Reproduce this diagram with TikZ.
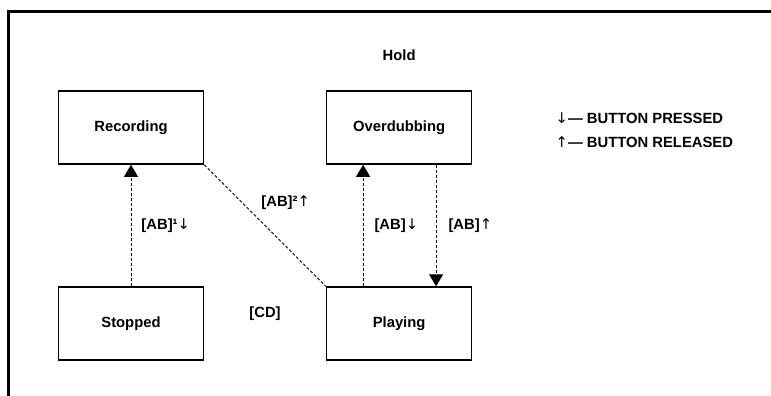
\documentclass[tikz,border=0pt]{standalone}
\usepackage{fontspec}
\setmainfont{Liberation Sans}
\newfontfamily\arrowfont{DejaVu Sans}
\newcommand{\dn}{{\arrowfont\mdseries ↓}}
\newcommand{\up}{{\arrowfont\mdseries ↑}}
\usetikzlibrary{positioning,arrows.meta}

\begin{document}
\begin{tikzpicture}[
    x=1pt, y=1pt,
    font=\bfseries\fontsize{14.8}{17}\selectfont,
    line/.style={-{Triangle[width=14pt,length=12pt]}, line width=0.9pt, dash pattern=on 3pt off 2pt},
    plainline/.style={line width=0.9pt, dash pattern=on 3pt off 2pt},
    state/.style={
        draw, line width=1.6pt,
        minimum width=145pt,
        minimum height=73pt,
        align=center,
        fill=white
    },
    label/.style={inner sep=2pt},
    legend/.style={align=left, inner sep=0pt}
]
\clip (0,0) rectangle (771,-396);

% Frame
\draw[line width=3pt] (8.5,-410) -- (8.5,-12) -- (790,-12);

% States
\node[state] (rec) at (131,-127.5) {Recording};
\node[state, right=121.5pt of rec] (over) {Overdubbing};
\node[state, below=121.5pt of rec] (stop) {Stopped};
\node[state, below=121.5pt of over] (play) {Playing};

% Texts
\node[label, above=27pt of over] (hold) {Hold};
\path (stop) -- (play) node[midway, yshift=10pt] (cd) {[CD]};

% Transitions
\draw[line] (stop) -- node[label, right=8pt] (ab1) {[AB]¹\dn} (rec);
\draw[plainline] (rec.south east) -- node[label, pos=0.31, right=17pt] (ab2) {[AB]²\up} (play.north west);
\draw[line] ([xshift=-36pt]play.north) -- node[label, right=9pt] (ab3) {[AB]\dn} ([xshift=-36pt]over.south);
\draw[line] ([xshift=37pt]over.south) -- node[label, right=10pt] (ab4) {[AB]\up} ([xshift=37pt]play.north);

% Legend
\node[legend, right=83pt of over, yshift=-3pt] (key) {\dn— BUTTON PRESSED\\[7pt]\up— BUTTON RELEASED};

\end{tikzpicture}
\end{document}
